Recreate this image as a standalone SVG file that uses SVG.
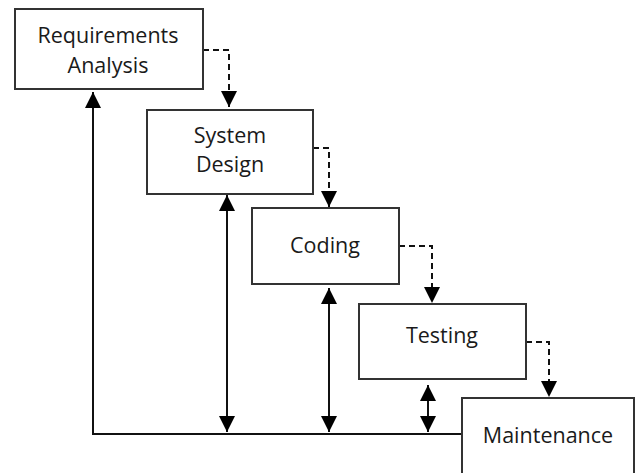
<svg xmlns="http://www.w3.org/2000/svg" width="641" height="473" viewBox="0 0 641 473">
<defs>
<style>
.box{fill:#fff;stroke:#333;stroke-width:2}
.lbl{font-family:"Open Sans","Noto Sans","DejaVu Sans",sans-serif;font-size:21.5px;fill:#1a1a1a;text-anchor:middle}
.dash{fill:none;stroke:#111;stroke-width:2;stroke-dasharray:6,4}
.solid{fill:none;stroke:#111;stroke-width:2}
</style>
<marker id="ah" viewBox="0 0 16 16" refX="16" refY="8" markerWidth="16" markerHeight="16" orient="auto-start-reverse" markerUnits="userSpaceOnUse">
<path d="M0,0 L16,8 L0,16 z" fill="#000"/>
</marker>
</defs>
<rect width="641" height="473" fill="#fff"/>
<g id="connectors">
<path class="dash" d="M203,50 H229 V107" marker-end="url(#ah)"/>
<path class="dash" d="M313,148 H329 V207" marker-end="url(#ah)"/>
<path class="dash" d="M399,246 H432 V303" marker-end="url(#ah)"/>
<path class="dash" d="M526,342 H549 V397" marker-end="url(#ah)"/>
<path class="solid" d="M462,434 H93 V92" marker-end="url(#ah)"/>
<path class="solid" d="M227,195 V432" marker-start="url(#ah)" marker-end="url(#ah)"/>
<path class="solid" d="M329,288 V432" marker-start="url(#ah)" marker-end="url(#ah)"/>
<path class="solid" d="M428,385 V432" marker-start="url(#ah)" marker-end="url(#ah)"/>
</g>
<g id="requirements">
<rect class="box" x="15" y="9" width="188" height="80"/>
<text class="lbl" x="108" y="43">Requirements</text>
<text class="lbl" x="108" y="73">Analysis</text>
</g>
<g id="design">
<rect class="box" x="147" y="110" width="166" height="84"/>
<text class="lbl" x="230" y="143">System</text>
<text class="lbl" x="230" y="172">Design</text>
</g>
<g id="coding">
<rect class="box" x="252" y="208" width="147" height="76"/>
<text class="lbl" x="325" y="253">Coding</text>
</g>
<g id="testing">
<rect class="box" x="359" y="304" width="167" height="75"/>
<text class="lbl" x="442" y="343">Testing</text>
</g>
<g id="maintenance">
<rect class="box" x="462" y="398" width="172" height="90"/>
<text class="lbl" x="548" y="443">Maintenance</text>
</g>
</svg>
